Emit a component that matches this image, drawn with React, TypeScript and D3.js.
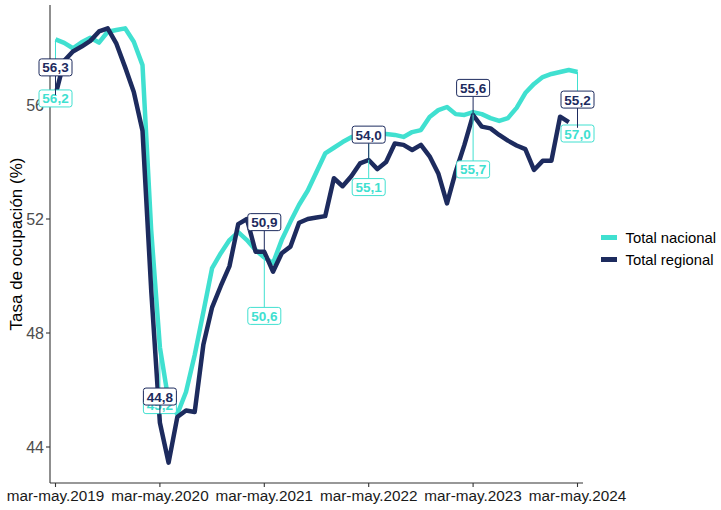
import React from "react";
import * as d3 from "d3";

const monthAbbr = ["ene", "feb", "mar", "abr", "may", "jun", "jul", "ago", "sep", "oct", "nov", "dic"];
// 61 rolling quarters: mar-may.2019 ... mar-may.2024
const periods: string[] = d3.range(61).map((i) => {
  const m = (2 + i) % 12;
  const y = 2019 + Math.floor((2 + i + 2) / 12);
  return `${monthAbbr[m]}-${monthAbbr[(m + 2) % 12]}.${y}`;
});

const tickLabels = ["mar-may.2019", "mar-may.2020", "mar-may.2021", "mar-may.2022", "mar-may.2023", "mar-may.2024"];
const yTicks = [44, 48, 52, 56];

const nacional = [
  58.3, 58.18, 57.99, 58.2, 58.36, 58.19, 58.57, 58.63, 58.69, 58.22,
  57.4, 51.6, 47.5, 45.6, 45.15, 45.93, 47.23, 48.74, 50.28, 50.8,
  51.26, 51.54, 51.26, 50.91, 50.65, 50.45, 51.26, 51.9, 52.5, 53.0,
  53.65, 54.3, 54.5, 54.7, 54.87, 54.95, 55.0, 55.0, 54.98, 54.95,
  54.88, 55.05, 55.12, 55.58, 55.82, 55.93, 55.68, 55.65, 55.75, 55.68,
  55.54, 55.44, 55.54, 55.9, 56.42, 56.74, 56.98, 57.09, 57.16, 57.23,
  57.16,
];

const regional = [
  56.35, 57.55, 57.88, 58.05, 58.25, 58.58, 58.69, 58.15, 57.33, 56.46,
  55.1, 49.5, 44.85, 43.45, 45.05, 45.28, 45.23, 47.6, 48.9, 49.65,
  50.35, 51.82, 52.0, 50.85, 50.85, 50.15, 50.8, 51.03, 51.87, 52.0,
  52.05, 52.1, 53.43, 53.15, 53.5, 53.95, 54.07, 53.75, 54.0, 54.65,
  54.6, 54.42, 54.6, 54.2, 53.6, 52.55, 53.66, 54.6, 55.65, 55.24,
  55.18, 54.95, 54.75, 54.58, 54.45, 53.72, 54.04, 54.04, 55.59, 55.4,
];

// annotated periods and their printed values
const labelIdx = [0, 12, 24, 36, 48, 60];
const regionalLabels = [56.3, 44.8, 50.9, 54.0, 55.6, 55.2];
const nacionalLabels = [56.2, 45.2, 50.6, 55.1, 55.7, 57.0];

// label placement (value-space y of the label box centre)
const regionalLabelY = [57.32, 45.77, 51.89, 54.96, 56.6, 56.19];
const nacionalLabelY = [56.23, 45.47, 48.6, 53.12, 53.74, 55.0];
const regionalAnchor = [56.35, 44.85, 50.85, 54.07, 55.65, 55.2];

const seriesNames = ["Total nacional", "Total regional"];
const COL_NAC = "#40E0D0";
const COL_REG = "#1d2b5e";
const FONT = "'Liberation Sans', Arial, sans-serif";

const fmt = (v: number) => v.toFixed(1).replace(".", ",");

export default function App() {
  const W = 721;
  const H = 510;
  const left = 50;
  const right = 583;
  const top = 5;
  const bottom = 483;

  const x = d3.scaleLinear().domain([0, periods.length - 1]).range([55.5, 577.5]);
  const y = d3.scaleLinear().domain([44, 56]).range([447, 105]);

  const line = d3
    .line<number>()
    .x((_, i) => x(i))
    .y((d) => y(d))
    .curve(d3.curveLinear);

  const boxW = 33;
  const boxH = 17;

  const renderLabel = (
    key: string,
    cx: number,
    cy: number,
    text: string,
    color: string
  ) => (
    <g key={key}>
      <rect
        x={cx - boxW / 2}
        y={cy - boxH / 2}
        width={boxW}
        height={boxH}
        rx={2.5}
        fill="#ffffff"
        stroke={color}
        strokeWidth={1}
      />
      <text
        x={cx}
        y={cy + 5}
        textAnchor="middle"
        fontFamily={FONT}
        fontSize={13.5}
        fontWeight="bold"
        fill={color}
      >
        {text}
      </text>
    </g>
  );

  return (
    <svg
      width={W}
      height={H}
      style={{ position: "fixed", left: 0, top: 0, background: "#fff" }}
    >
      <rect x={0} y={0} width={W} height={H} fill="#ffffff" />

      {/* axes */}
      <line x1={left} x2={left} y1={top} y2={bottom} stroke="#333" strokeWidth={1.1} />
      <line x1={left} x2={right} y1={bottom} y2={bottom} stroke="#333" strokeWidth={1.1} />
      {yTicks.map((t) => (
        <g key={`yt${t}`}>
          <line x1={left - 4} x2={left} y1={y(t)} y2={y(t)} stroke="#333" strokeWidth={1.1} />
          <text
            x={left - 6}
            y={y(t) + 5.5}
            textAnchor="end"
            fontFamily={FONT}
            fontSize={16}
            fill="#4d4d4d"
          >
            {t}
          </text>
        </g>
      ))}
      {tickLabels.map((lab) => {
        const i = periods.indexOf(lab);
        return (
          <g key={lab}>
            <line x1={x(i)} x2={x(i)} y1={bottom} y2={bottom + 4} stroke="#333" strokeWidth={1.1} />
            <text
              x={x(i)}
              y={bottom + 18}
              textAnchor="middle"
              fontFamily={FONT}
              fontSize={15.3}
              fill="#1a1a1a"
            >
              {lab}
            </text>
          </g>
        );
      })}
      <text
        transform={`translate(21.5, ${(top + bottom) / 2}) rotate(-90)`}
        textAnchor="middle"
        fontFamily={FONT}
        fontSize={17}
        fill="#000"
      >
        Tasa de ocupación (%)
      </text>

      {/* series */}
      <path d={line(nacional) || ""} fill="none" stroke={COL_NAC} strokeWidth={4.5} strokeLinejoin="round" />
      <path d={line(regional) || ""} fill="none" stroke={COL_REG} strokeWidth={4.5} strokeLinejoin="round" />

      {/* nacional labels */}
      {labelIdx.map((idx, k) => {
        const cx = x(idx);
        const py = y(nacional[idx]);
        const ly = y(nacionalLabelY[k]);
        const edge = ly > py ? ly - boxH / 2 : ly + boxH / 2;
        return (
          <g key={`nl${k}`}>
            <line x1={cx} x2={cx} y1={py} y2={edge} stroke={COL_NAC} strokeWidth={1} />
            {renderLabel(`nb${k}`, cx, ly, fmt(nacionalLabels[k]), COL_NAC)}
          </g>
        );
      })}

      {/* regional labels */}
      {labelIdx.map((idx, k) => {
        const cx = x(idx);
        const py = y(regionalAnchor[k]);
        const ly = y(regionalLabelY[k]);
        const edge = ly > py ? ly - boxH / 2 : ly + boxH / 2;
        return (
          <g key={`rl${k}`}>
            <line x1={cx} x2={cx} y1={py} y2={edge} stroke={COL_REG} strokeWidth={1} />
            {renderLabel(`rb${k}`, cx, ly, fmt(regionalLabels[k]), COL_REG)}
          </g>
        );
      })}

      {/* legend */}
      {seriesNames.map((name, i) => {
        const ly = 237.5 + i * 22;
        return (
          <g key={name}>
            <line
              x1={601}
              x2={617}
              y1={ly}
              y2={ly}
              stroke={i === 0 ? COL_NAC : COL_REG}
              strokeWidth={5}
            />
            <text x={625.5} y={ly + 5.5} fontFamily={FONT} fontSize={14.8} fill="#000">
              {name}
            </text>
          </g>
        );
      })}
    </svg>
  );
}
